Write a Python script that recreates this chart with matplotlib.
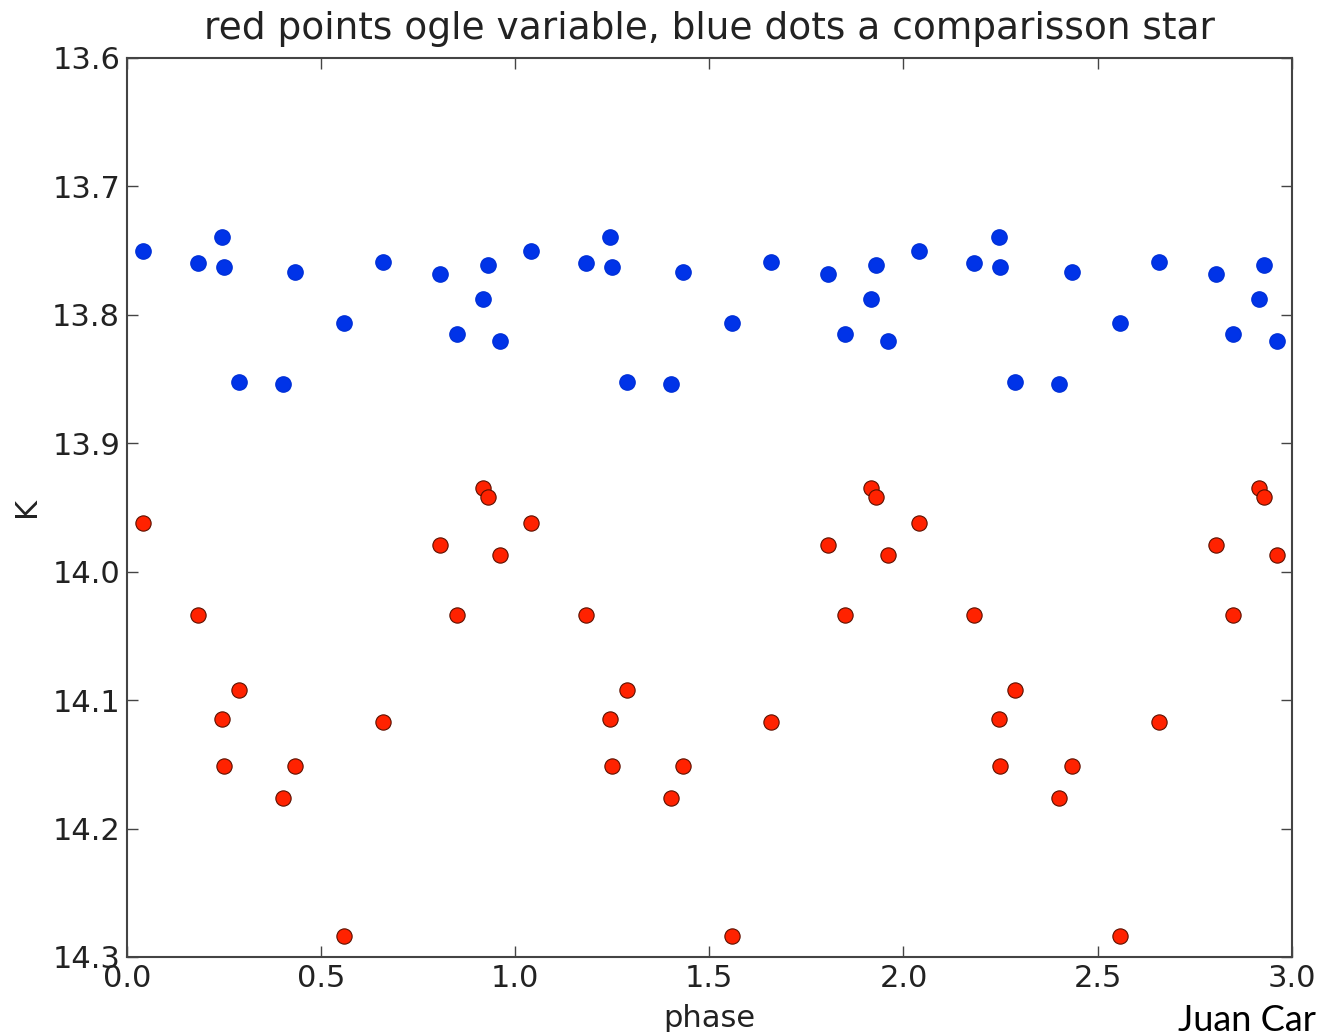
import numpy as np
import matplotlib
matplotlib.use("Agg")
import matplotlib.pyplot as plt

# phase of each observation (one cycle), repeated over three cycles below
phase = [0.041, 0.183, 0.245, 0.250, 0.288, 0.402, 0.433, 0.559,
         0.659, 0.806, 0.850, 0.917, 0.930, 0.961]

# comparison star (blue)
comp_k = [13.750, 13.760, 13.739, 13.763, 13.852, 13.854, 13.767, 13.806,
          13.759, 13.768, 13.815, 13.788, 13.761, 13.820]

# ogle variable (red)
var_k = [13.962, 14.034, 14.115, 14.151, 14.092, 14.176, 14.151, 14.284,
         14.117, 13.979, 14.034, 13.935, 13.942, 13.987]

cycles = [0, 1, 2]

ph = np.concatenate([np.array(phase) + c for c in cycles])
comp = np.concatenate([comp_k for c in cycles])
var = np.concatenate([var_k for c in cycles])

fig = plt.figure(figsize=(13.18, 10.32), dpi=100)
ax = fig.add_axes([0.0964, 0.0727, 0.8836, 0.8711])

ax.plot(ph, comp, "o", color="#0033e8", markeredgecolor="#0030d8", markersize=11)
ax.plot(ph, var, "o", color="#ff2200", markeredgecolor="#5a1000", markeredgewidth=0.8, markersize=11)

ax.set_xlim(0.0, 3.0)
ax.set_ylim(14.3, 13.6)
ax.set_xticks(np.arange(0, 3.01, 0.5))
ax.set_yticks(np.arange(13.6, 14.31, 0.1))
ax.set_xticklabels(["{:.1f}".format(v) for v in np.arange(0, 3.01, 0.5)])
ax.set_yticklabels(["{:.1f}".format(v) for v in np.arange(13.6, 14.31, 0.1)])

ax.tick_params(direction="in", length=8, width=1, top=True, right=True,
               labelsize=22, labelcolor="#222222", color="#444444", pad=5)
for s in ax.spines.values():
    s.set_linewidth(1.5)
    s.set_color("#444444")

ax.set_xlabel("phase", fontsize=22, color="#222222", labelpad=8)
ax.set_ylabel("K", fontsize=22, color="#222222", labelpad=8)
ax.set_title("red points ogle variable, blue dots a comparisson star",
             fontsize=27, color="#222222", pad=14)

fig.text(1178 / 1318, 1 - 1031 / 1032, "Juan Car", fontsize=26, family="Lato",
         color="black", va="baseline", ha="left")

fig.savefig("out.png", dpi=100)
